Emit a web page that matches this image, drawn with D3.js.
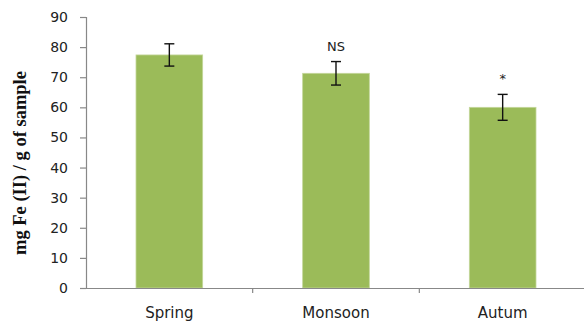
<!DOCTYPE html>
<html>
<head>
<meta charset="utf-8">
<script src="https://cdn.jsdelivr.net/npm/d3@7"></script>
<style>
  body { margin: 0; background: #fff; }
  .tick text { font-family: "DejaVu Sans", Verdana, sans-serif; fill: #222; }
</style>
</head>
<body>
<svg id="chart" width="584" height="321"></svg>
<script>
// seasons and mean values
var seasons = ["Spring", "Monsoon", "Autum"];
var means = [77.4, 71.3, 60.0];
var errors = [3.7, 3.9, 4.3];
var marks = ["", "NS", "*"];
var yTicks = [0, 10, 20, 30, 40, 50, 60, 70, 80, 90];

var screen = {width: 584, height: 321};
var margins = {top: 17, bottom: 33, left: 86, right: -2};
var graph = {
    width: screen.width - margins.left - margins.right,
    height: screen.height - margins.top - margins.bottom
};

var svg = d3.select("#chart");
var g = svg.append("g")
    .attr("transform", "translate(" + margins.left + "," + margins.top + ")");

var xScale = d3.scaleBand()
    .domain(seasons)
    .range([0, graph.width])
    .paddingInner(0.6)
    .paddingOuter(0.3);

var yScale = d3.scaleLinear()
    .domain([0, 90])
    .range([graph.height, 0]);

var rows = seasons.map(function(s, i) {
    return {season: s, mean: means[i], err: errors[i], mark: marks[i]};
});

// bars
g.selectAll("rect.bar")
    .data(rows)
    .enter()
    .append("rect")
    .classed("bar", true)
    .attr("x", function(d) { return xScale(d.season); })
    .attr("y", function(d) { return yScale(d.mean); })
    .attr("width", xScale.bandwidth())
    .attr("height", function(d) { return graph.height - yScale(d.mean); })
    .attr("fill", "#9bbb59")
    .attr("stroke", "#c4d79b")
    .attr("stroke-width", 0.8);

// error bars
var cap = 5;
var eb = g.selectAll("g.err")
    .data(rows)
    .enter()
    .append("g")
    .classed("err", true)
    .attr("stroke", "#111")
    .attr("stroke-width", 1.4);

eb.append("line")
    .attr("x1", function(d) { return xScale(d.season) + xScale.bandwidth() / 2; })
    .attr("x2", function(d) { return xScale(d.season) + xScale.bandwidth() / 2; })
    .attr("y1", function(d) { return yScale(d.mean + d.err); })
    .attr("y2", function(d) { return yScale(d.mean - d.err); });
eb.append("line")
    .attr("x1", function(d) { return xScale(d.season) + xScale.bandwidth() / 2 - cap; })
    .attr("x2", function(d) { return xScale(d.season) + xScale.bandwidth() / 2 + cap; })
    .attr("y1", function(d) { return yScale(d.mean + d.err); })
    .attr("y2", function(d) { return yScale(d.mean + d.err); });
eb.append("line")
    .attr("x1", function(d) { return xScale(d.season) + xScale.bandwidth() / 2 - cap; })
    .attr("x2", function(d) { return xScale(d.season) + xScale.bandwidth() / 2 + cap; })
    .attr("y1", function(d) { return yScale(d.mean - d.err); })
    .attr("y2", function(d) { return yScale(d.mean - d.err); });

// significance marks
g.selectAll("text.mark")
    .data(rows)
    .enter()
    .append("text")
    .classed("mark", true)
    .attr("x", function(d) { return xScale(d.season) + xScale.bandwidth() / 2; })
    .attr("y", function(d) { return yScale(d.mean + d.err) - 11; })
    .attr("text-anchor", "middle")
    .attr("font-family", "DejaVu Sans, Verdana, sans-serif")
    .attr("font-size", 13)
    .attr("fill", "#222")
    .text(function(d) { return d.mark; });

// axes
var yAxis = g.append("g")
    .call(d3.axisLeft(yScale).tickValues(yTicks).tickSize(6).tickPadding(12));
yAxis.selectAll("text").attr("font-size", 14);

var xAxis = g.append("g")
    .attr("transform", "translate(0," + graph.height + ")")
    .call(d3.axisBottom(xScale).tickSize(0).tickPadding(19));
xAxis.selectAll("text").attr("font-size", 15);

// category boundary ticks
xAxis.selectAll("line.sep")
    .data(seasons.slice(1))
    .enter()
    .append("line")
    .classed("sep", true)
    .attr("x1", function(d) { return xScale(d) - xScale.step() * xScale.paddingInner() / 2; })
    .attr("x2", function(d) { return xScale(d) - xScale.step() * xScale.paddingInner() / 2; })
    .attr("y1", 0)
    .attr("y2", 5);

svg.selectAll(".domain, .tick line, line.sep")
    .attr("stroke", "#888")
    .attr("stroke-width", 1.2);

// y label
svg.append("text")
    .attr("transform", "translate(26,163) rotate(-90)")
    .attr("text-anchor", "middle")
    .attr("font-family", "Liberation Serif, Times New Roman, serif")
    .attr("font-weight", "bold")
    .attr("font-size", 18.5)
    .attr("fill", "#111")
    .text("mg Fe (II) / g of sample");
</script>
</body>
</html>
